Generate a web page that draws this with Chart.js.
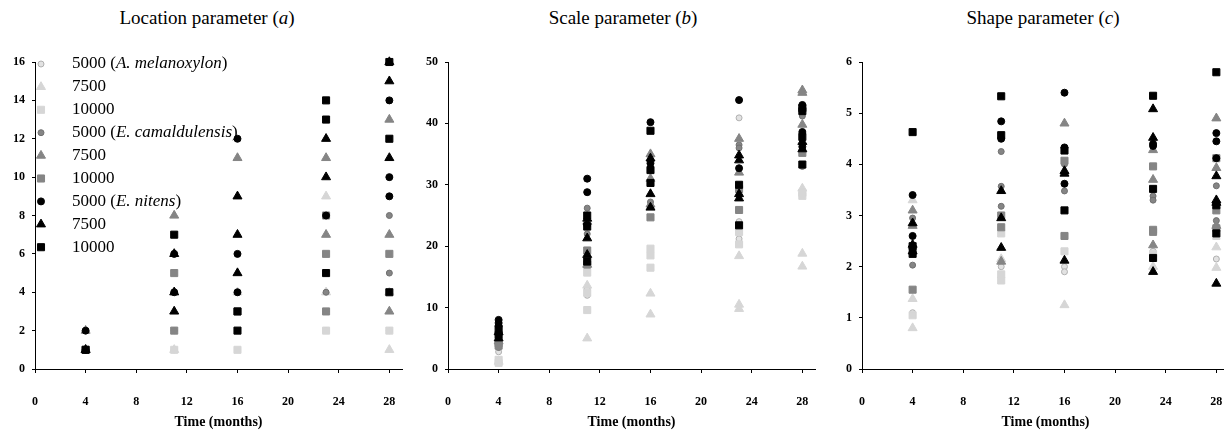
<!DOCTYPE html>
<html lang="en">
<head>
<meta charset="UTF-8">
<title>Weibull parameters over time</title>
<style>
    body {
        margin: 0;
        width: 1224px;
        height: 434px;
        overflow: hidden;
        background: #fff;
        position: relative;
        font-family: "Liberation Serif", "Times New Roman", serif;
    }
    .title {
        position: absolute;
        top: 7px;
        width: 300px;
        text-align: center;
        font-size: 19px;
        line-height: 22px;
        color: #000;
    }
    canvas {
        position: absolute;
        top: 40px;
    }
</style>
</head>
<body>
<div class="title" style="left:57px">Location parameter (<i>a</i>)</div>
<div class="title" style="left:473px">Scale parameter (<i>b</i>)</div>
<div class="title" style="left:893px">Shape parameter (<i>c</i>)</div>
<canvas id="chartA" width="410" height="394" style="left:0px"></canvas>
<canvas id="chartB" width="410" height="394" style="left:413px"></canvas>
<canvas id="chartC" width="410" height="394" style="left:827px"></canvas>

<script src="https://cdn.jsdelivr.net/npm/chart.js"></script>
<script>
    const months = [4, 11, 16, 23, 28];

    // legend text: [plain, italic, plain]
    const legendLabels = [
        ['5000 (', 'A. melanoxylon', ')'],
        ['7500', '', ''],
        ['10000', '', ''],
        ['5000 (', 'E. camaldulensis', ')'],
        ['7500', '', ''],
        ['10000', '', ''],
        ['5000 (', 'E. nitens', ')'],
        ['7500', '', ''],
        ['10000', '', '']
    ];

    // location parameter (a), one list of values per month
    const locAm5000 = [[1], [1], [4], [2], [2]];
    const locAm7500 = [[1], [1], [4], [9, 4], [4, 1]];
    const locAm10000 = [[1], [1], [1], [2], [2]];
    const locEc5000 = [[1], [2], [4], [4, 3], [8, 5]];
    const locEc7500 = [[2, 1], [8], [11], [11, 7], [13, 7, 3]];
    const locEc10000 = [[1], [5, 2], [3], [8, 6, 3], [6]];
    const locEn5000 = [[2, 1], [6, 4], [12, 6, 4], [8], [14, 10, 9]];
    const locEn7500 = [[1], [6, 4, 3], [9, 7, 5], [12, 10], [16, 15, 11]];
    const locEn10000 = [[1], [7], [3, 2], [14, 13, 5], [16, 12, 4]];

    // scale parameter (b)
    const sclAm5000 = [[2.8, 1.5], [12.0, 13.0], [18.6], [40.9, 24.0, 21.2], [29.0]];
    const sclAm7500 = [[1.2], [13.6, 5.0], [12.3, 8.9], [18.4, 10.5, 9.8], [29.4, 18.8, 16.7]];
    const sclAm10000 = [[1.5, 1.0], [15.7, 12.4, 9.6], [19.6, 18.5, 16.5], [22.3, 20.3], [28.7, 28.2]];
    const sclEc5000 = [[3.5, 5.5], [26.2, 22.0], [27.2], [36.5, 36.0], [41.2, 33.0]];
    const sclEc7500 = [[4.5], [24.0, 17.0], [35.0, 31.0, 26.8], [37.5, 32.0], [45.4, 45.0, 39.8]];
    const sclEc10000 = [[4.2, 3.8], [19.3, 17.0], [24.7], [29.3, 25.9], [35.2]];
    const sclEn5000 = [[8.0, 7.5, 7.0], [31.0, 28.8, 23.5], [40.2, 33.5], [43.8, 32.7], [43.0, 38.6, 36.2]];
    const sclEn7500 = [[6.0, 5.0], [24.5, 21.3, 18.6], [34.3, 28.5, 26.3], [34.8, 34.0, 28.5, 27.8], [37.0, 35.8]];
    const sclEn10000 = [[6.5, 5.5], [25.0, 23.2, 17.5], [38.8, 32.4, 30.3], [30.0, 23.4], [42.5, 42.0, 37.8, 33.3]];

    // shape parameter (c)
    const shpAm5000 = [[1.1], [2.0], [2.0, 1.9], [2.3], [2.15]];
    const shpAm7500 = [[3.3, 1.37, 0.8], [2.15], [1.25], [2.0], [2.38, 1.98]];
    const shpAm10000 = [[1.05], [2.65, 1.85, 1.73], [2.3], [2.25], [2.6]];
    const shpEc5000 = [[2.95, 2.03], [4.25, 3.57, 3.18], [4.0, 3.48], [3.38, 3.3], [3.58, 2.9]];
    const shpEc7500 = [[3.1, 2.8], [2.1], [4.8], [4.28, 3.7, 2.42], [4.9, 3.93, 2.8]];
    const shpEc10000 = [[1.55], [3.0, 2.77], [4.07, 2.6], [3.96, 2.72, 2.68], [4.12, 3.1, 2.75]];
    const shpEn5000 = [[3.4, 2.6, 2.35], [4.84, 4.5], [5.4, 4.33, 3.62], [4.4, 4.36], [4.61, 4.45, 4.12]];
    const shpEn7500 = [[2.85, 2.43, 2.3], [3.48, 2.95, 2.37], [3.87, 3.82, 2.12], [5.08, 4.52, 1.9], [3.77, 3.3, 3.25, 1.67]];
    const shpEn10000 = [[4.63, 2.4, 2.25], [5.33, 4.57], [4.27, 3.1], [5.34, 3.52, 2.17], [5.8, 3.2, 2.65]];

    // marker look for each of the 9 series
    const styles = [
        { pointStyle: 'circle', radius: 3, fill: '#e2e2e2', stroke: '#b0b0b0' },
        { pointStyle: 'triangle', radius: 5.2, fill: '#d6d6d6', stroke: '#d6d6d6' },
        { pointStyle: 'rect', radius: 5, fill: '#d6d6d6', stroke: '#d6d6d6' },
        { pointStyle: 'circle', radius: 3, fill: '#858585', stroke: '#707070' },
        { pointStyle: 'triangle', radius: 5.2, fill: '#858585', stroke: '#858585' },
        { pointStyle: 'rect', radius: 5, fill: '#858585', stroke: '#858585' },
        { pointStyle: 'circle', radius: 3.5, fill: '#000', stroke: '#000' },
        { pointStyle: 'triangle', radius: 5.2, fill: '#000', stroke: '#000' },
        { pointStyle: 'rect', radius: 5, fill: '#000', stroke: '#000' }
    ];

    function toPoints(perMonth) {
        const pts = [];
        perMonth.forEach(function(vals, i) {
            vals.forEach(function(v) { pts.push({ x: months[i], y: v }); });
        });
        return pts;
    }

    function makeDatasets(seriesList) {
        return seriesList.map(function(s, i) {
            const st = styles[i];
            return {
                label: legendLabels[i].join(''),
                data: toPoints(s),
                order: seriesList.length - i, // later series end up on top
                pointStyle: st.pointStyle,
                pointRadius: st.radius,
                pointBackgroundColor: st.fill,
                pointBorderColor: st.stroke,
                pointBorderWidth: 1,
                showLine: false,
                clip: false
            };
        });
    }

    const tickFont = { family: 'Liberation Serif', size: 12, weight: 'bold' };

    // legend drawn inside the first panel, with italic species names
    const insideLegend = {
        id: 'insideLegend',
        afterDatasetsDraw(chart) {
            const ctx = chart.ctx;
            ctx.save();
            ctx.textBaseline = 'middle';
            legendLabels.forEach(function(parts, i) {
                const y = 24 + i * 22.9;
                const st = styles[i];
                ctx.fillStyle = st.fill;
                ctx.strokeStyle = st.stroke;
                ctx.lineWidth = 1;
                Chart.helpers.drawPoint(ctx, { pointStyle: st.pointStyle, radius: st.radius, borderWidth: 1, rotation: 0 }, 41, y);
                let x = 72;
                ctx.fillStyle = '#000';
                ctx.font = '17px "Liberation Serif"';
                ctx.fillText(parts[0], x, y);
                x += ctx.measureText(parts[0]).width;
                ctx.font = 'italic 17px "Liberation Serif"';
                ctx.fillText(parts[1], x, y);
                x += ctx.measureText(parts[1]).width;
                ctx.font = '17px "Liberation Serif"';
                ctx.fillText(parts[2], x, y);
            });
            ctx.restore();
        }
    };

    function makePanel(id, seriesList, yMax, yStep, withLegend) {
        return new Chart(document.getElementById(id), {
            type: 'scatter',
            data: { datasets: makeDatasets(seriesList) },
            plugins: withLegend ? [insideLegend] : [],
            options: {
                responsive: false,
                animation: false,
                events: [],
                layout: { padding: { top: 22, right: 8, left: 0, bottom: 0 } },
                plugins: {
                    legend: { display: false },
                    tooltip: { enabled: false }
                },
                scales: {
                    x: {
                        type: 'linear',
                        min: 0,
                        max: 29,
                        ticks: {
                            stepSize: 4,
                            includeBounds: false,
                            padding: 22,
                            maxRotation: 0,
                            color: '#000',
                            font: tickFont
                        },
                        grid: { drawOnChartArea: false, drawTicks: true, tickLength: 4, color: '#000' },
                        border: { display: true, color: '#000', width: 1 },
                        title: {
                            display: true,
                            text: 'Time (months)',
                            color: '#000',
                            font: { family: 'Liberation Serif', size: 14, weight: 'bold' },
                            padding: { top: 0, bottom: 3 }
                        },
                        afterFit: function(s) {
                            s.height = 65;
                            s.paddingLeft = 0;
                            s.paddingRight = 0;
                        }
                    },
                    y: {
                        type: 'linear',
                        min: 0,
                        max: yMax,
                        ticks: {
                            stepSize: yStep,
                            padding: 7,
                            color: '#000',
                            font: tickFont
                        },
                        grid: { drawOnChartArea: false, drawTicks: true, tickLength: 3, color: '#000' },
                        border: { display: true, color: '#000', width: 1 },
                        afterFit: function(s) { s.width = 35; }
                    }
                }
            }
        });
    }

    makePanel('chartA', [locAm5000, locAm7500, locAm10000, locEc5000, locEc7500, locEc10000, locEn5000, locEn7500, locEn10000], 16, 2, true);
    makePanel('chartB', [sclAm5000, sclAm7500, sclAm10000, sclEc5000, sclEc7500, sclEc10000, sclEn5000, sclEn7500, sclEn10000], 50, 10, false);
    makePanel('chartC', [shpAm5000, shpAm7500, shpAm10000, shpEc5000, shpEc7500, shpEc10000, shpEn5000, shpEn7500, shpEn10000], 6, 1, false);
</script>
</body>
</html>
